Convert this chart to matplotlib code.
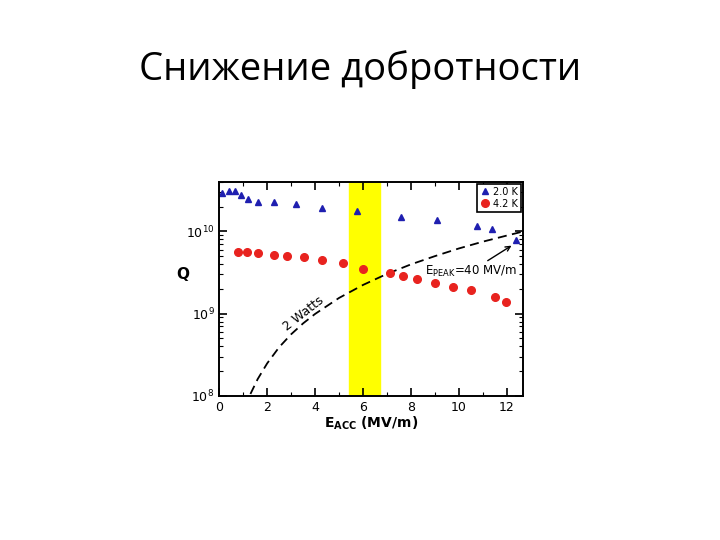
import numpy as np
import matplotlib.pyplot as plt
from matplotlib.ticker import LogLocator, MultipleLocator

# 2.0 K data (triangles)
e_20 = [0.13, 0.42, 0.65, 0.89, 1.21, 1.63, 2.30, 3.20, 4.30, 5.73, 7.57, 9.10, 10.74, 11.37, 12.37]
q_20 = [2.9e10, 3.15e10, 3.1e10, 2.78e10, 2.5e10, 2.27e10, 2.27e10, 2.16e10, 1.92e10,
        1.75e10, 1.49e10, 1.38e10, 1.18e10, 1.08e10, 7.9e9]

# 4.2 K data (circles)
e_42 = [0.79, 1.14, 1.63, 2.28, 2.84, 3.55, 4.30, 5.15, 5.98, 7.13, 7.67, 8.24, 9.00,
        9.77, 10.51, 11.51, 11.96]
q_42 = [5.57e9, 5.57e9, 5.42e9, 5.18e9, 5.08e9, 4.94e9, 4.54e9, 4.10e9, 3.50e9, 3.08e9,
        2.86e9, 2.60e9, 2.37e9, 2.12e9, 1.92e9, 1.59e9, 1.38e9]

# "2 Watts" dashed curve
e_2w = [1.3, 1.6, 2.0, 2.5, 3.0, 3.5, 4.0, 5.0, 6.0, 7.0, 8.0, 9.0, 10.0, 11.0, 12.0, 12.7]
q_2w = [1.05e8, 1.59e8, 2.48e8, 3.9e8, 5.6e8, 7.6e8, 9.9e8, 1.55e9, 2.23e9, 3.04e9,
        3.97e9, 5.0e9, 6.2e9, 7.5e9, 8.9e9, 1.0e10]

band = (5.4, 6.7)

fig = plt.figure(figsize=(7.2, 5.4), dpi=100)
fig.text(0.5, 0.872, "Снижение добротности", ha="center", va="center",
         fontsize=27.5, family=["Open Sans", "DejaVu Sans"])

ax = fig.add_axes([0.3046, 0.2672, 0.4214, 0.3958])
ax.axvspan(band[0], band[1], color="#ffff00", zorder=0)
ax.plot(e_2w, q_2w, "k--", lw=1.3, dashes=(5, 3))
ax.plot(e_20, q_20, "^", color="#1f1fb0", ms=5, ls="none", label="2.0 K")
ax.plot(e_42, q_42, "o", color="#e8231f", ms=5.5, ls="none", label="4.2 K")

ax.set_yscale("log")
ax.set_xlim(0, 12.67)
ax.set_ylim(1e8, 4e10)
ax.xaxis.set_major_locator(MultipleLocator(2))
ax.xaxis.set_minor_locator(MultipleLocator(1))
ax.yaxis.set_major_locator(LogLocator(base=10, numticks=10))
ax.yaxis.set_minor_locator(LogLocator(base=10, subs=np.arange(2, 10), numticks=10))
ax.tick_params(which="both", direction="in", top=True, right=True, labelsize=9)
ax.tick_params(which="major", length=6, width=1.2)
ax.tick_params(which="minor", length=3, width=0.8)
for s in ax.spines.values():
    s.set_linewidth(1.4)

ax.set_xlabel(r"$\mathbf{E_{ACC}}$ (MV/m)", fontsize=10, fontweight="bold", labelpad=1)
ax.set_ylabel("Q", fontsize=11, fontweight="bold", rotation=0, va="center", ha="center")
ax.yaxis.set_label_coords(-0.12, 0.565)

ax.text(3.5, 1.0e9, "2 Watts", rotation=38, fontsize=9, ha="center", va="center")
ax.annotate(r"E$_{\rm PEAK}$=40 MV/m", xy=(12.3, 7.0e9), xytext=(8.6, 3.3e9),
            fontsize=8.5, va="center",
            arrowprops=dict(arrowstyle="->", color="k", lw=1, shrinkA=0))

leg = ax.legend(loc="upper right", fontsize=7, handletextpad=0.3, borderpad=0.3,
                labelspacing=0.2, fancybox=False, edgecolor="k", framealpha=1,
                handlelength=1, borderaxespad=0.2)
leg.get_frame().set_linewidth(1.2)

fig.savefig("out.png", dpi=100)
